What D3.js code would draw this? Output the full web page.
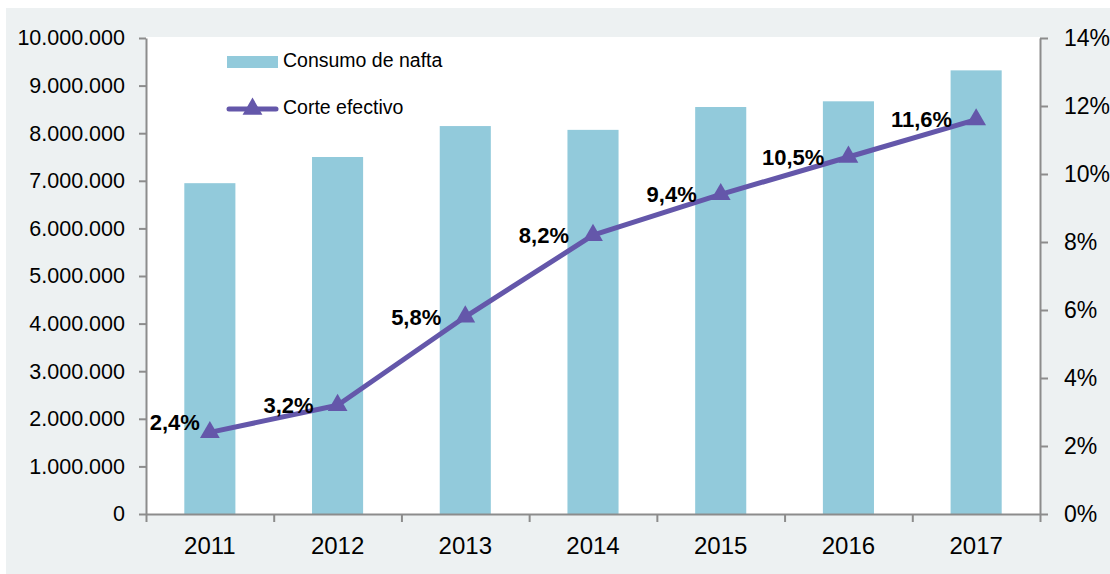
<!DOCTYPE html>
<html>
<head>
<meta charset="utf-8">
<script src="https://cdn.jsdelivr.net/npm/d3@7"></script>
<style>
  html, body { margin: 0; padding: 0; background: #fff; }
  svg { display: block; font-family: "Liberation Sans", Arial, sans-serif; }
</style>
</head>
<body>
<svg id="chart" width="1110" height="574"></svg>
<script>
// data
const years = ["2011", "2012", "2013", "2014", "2015", "2016", "2017"];
const consumo = [6950000, 7500000, 8150000, 8070000, 8550000, 8670000, 9320000];
const corte = [2.4, 3.2, 5.8, 8.2, 9.4, 10.5, 11.6];
const leftTicks = [0, 1000000, 2000000, 3000000, 4000000, 5000000, 6000000, 7000000, 8000000, 9000000, 10000000];
const rightTicks = [0, 2, 4, 6, 8, 10, 12, 14];
const seriesNames = ["Consumo de nafta", "Corte efectivo"];

const width = 1110, height = 574;
const plot = {left: 146, right: 1040, top: 38, bottom: 514};
const barColor = "#92cadb";
const lineColor = "#6457aa";
const axisColor = "#8c8c8c";

const svg = d3.select("#chart");

// background
svg.append("rect")
    .attr("x", 6).attr("y", 8)
    .attr("width", width - 6).attr("height", height - 8)
    .attr("fill", "#edf1f2");
svg.append("rect")
    .attr("x", plot.left).attr("y", plot.top - 1)
    .attr("width", plot.right - plot.left).attr("height", plot.bottom - plot.top + 1)
    .attr("fill", "#fff");

const x = d3.scaleBand()
    .domain(years)
    .range([plot.left, plot.right])
    .paddingInner(0.6)
    .paddingOuter(0.3);

const yLeft = d3.scaleLinear().domain([0, 10000000]).range([plot.bottom, plot.top]);
const yRight = d3.scaleLinear().domain([0, 14]).range([plot.bottom, plot.top]);

// bars
svg.append("g").selectAll("rect")
    .data(consumo)
    .enter().append("rect")
    .attr("x", (d, i) => x(years[i]))
    .attr("y", d => yLeft(d))
    .attr("width", x.bandwidth())
    .attr("height", d => plot.bottom - yLeft(d))
    .attr("fill", barColor);

// axes
const dotFormat = v => d3.format(",")(v).replace(/,/g, ".");

const leftAxis = svg.append("g")
    .attr("transform", `translate(${plot.left},0)`)
    .call(d3.axisLeft(yLeft).tickValues(leftTicks).tickFormat(dotFormat).tickSize(7).tickSizeOuter(0).tickPadding(14));

const rightAxis = svg.append("g")
    .attr("transform", `translate(${plot.right},0)`)
    .call(d3.axisRight(yRight).tickValues(rightTicks).tickFormat(d => d + "%").tickSize(8).tickSizeOuter(0).tickPadding(16));

// x axis: ticks between categories, labels centered in bands
const xEdges = d3.scaleLinear().domain([0, years.length]).range([plot.left, plot.right]);
const bottomAxis = svg.append("g")
    .attr("transform", `translate(0,${plot.bottom})`)
    .call(d3.axisBottom(xEdges).tickValues(d3.range(years.length + 1)).tickFormat("").tickSize(8).tickSizeOuter(0));

const xLabels = svg.append("g")
    .attr("transform", `translate(0,${plot.bottom})`)
    .call(d3.axisBottom(x).tickSize(0).tickPadding(23));
xLabels.select(".domain").remove();

[leftAxis, rightAxis, bottomAxis].forEach(g => {
    g.select(".domain").attr("stroke", axisColor).attr("stroke-width", 2);
    g.selectAll(".tick line").attr("stroke", axisColor).attr("stroke-width", 2);
});
leftAxis.selectAll("text").attr("font-size", 21.5).attr("fill", "#000").attr("font-family", null);
rightAxis.selectAll("text").attr("font-size", 23).attr("fill", "#000").attr("font-family", null);
xLabels.selectAll("text").attr("font-size", 24).attr("fill", "#000").attr("font-family", null);

// line
const cx = (d, i) => x(years[i]) + x.bandwidth() / 2;
const line = d3.line()
    .x(cx)
    .y(d => yRight(d));

svg.append("path")
    .datum(corte)
    .attr("d", line)
    .attr("fill", "none")
    .attr("stroke", lineColor)
    .attr("stroke-width", 5)
    .attr("stroke-linejoin", "round");

const tri = d3.symbol().type(d3.symbolTriangle).size(170);
svg.append("g").selectAll("path")
    .data(corte)
    .enter().append("path")
    .attr("d", tri)
    .attr("transform", (d, i) => `translate(${cx(d, i)},${yRight(d)})`)
    .attr("fill", lineColor);

// data labels, left of each point (first one nudged like the reference)
const labelNudge = [[14, -10], [0, 0], [0, 0], [0, 0], [0, 0], [0, 0], [0, 0]];
svg.append("g").selectAll("text")
    .data(corte)
    .enter().append("text")
    .attr("x", (d, i) => cx(d, i) - 24 + labelNudge[i][0])
    .attr("y", (d, i) => yRight(d) + 2 + labelNudge[i][1])
    .attr("text-anchor", "end")
    .attr("dominant-baseline", "middle")
    .attr("font-size", 22)
    .attr("font-weight", "bold")
    .text(d => d3.format(".1f")(d).replace(".", ",") + "%");

// legend
const legend = svg.append("g").attr("transform", "translate(227,62)");
legend.append("rect")
    .attr("x", 0).attr("y", -6)
    .attr("width", 51).attr("height", 12)
    .attr("fill", barColor);
legend.append("text")
    .attr("x", 56).attr("y", 0)
    .attr("dominant-baseline", "middle")
    .attr("font-size", 19.5)
    .text(seriesNames[0]);

const legend2 = legend.append("g").attr("transform", "translate(0,47)");
legend2.append("line")
    .attr("x1", 2).attr("x2", 49)
    .attr("stroke", lineColor).attr("stroke-width", 5).attr("stroke-linecap", "round");
legend2.append("path")
    .attr("d", tri)
    .attr("transform", "translate(25.5,0)")
    .attr("fill", lineColor);
legend2.append("text")
    .attr("x", 56).attr("y", 0)
    .attr("dominant-baseline", "middle")
    .attr("font-size", 19.5)
    .text(seriesNames[1]);
</script>
</body>
</html>
